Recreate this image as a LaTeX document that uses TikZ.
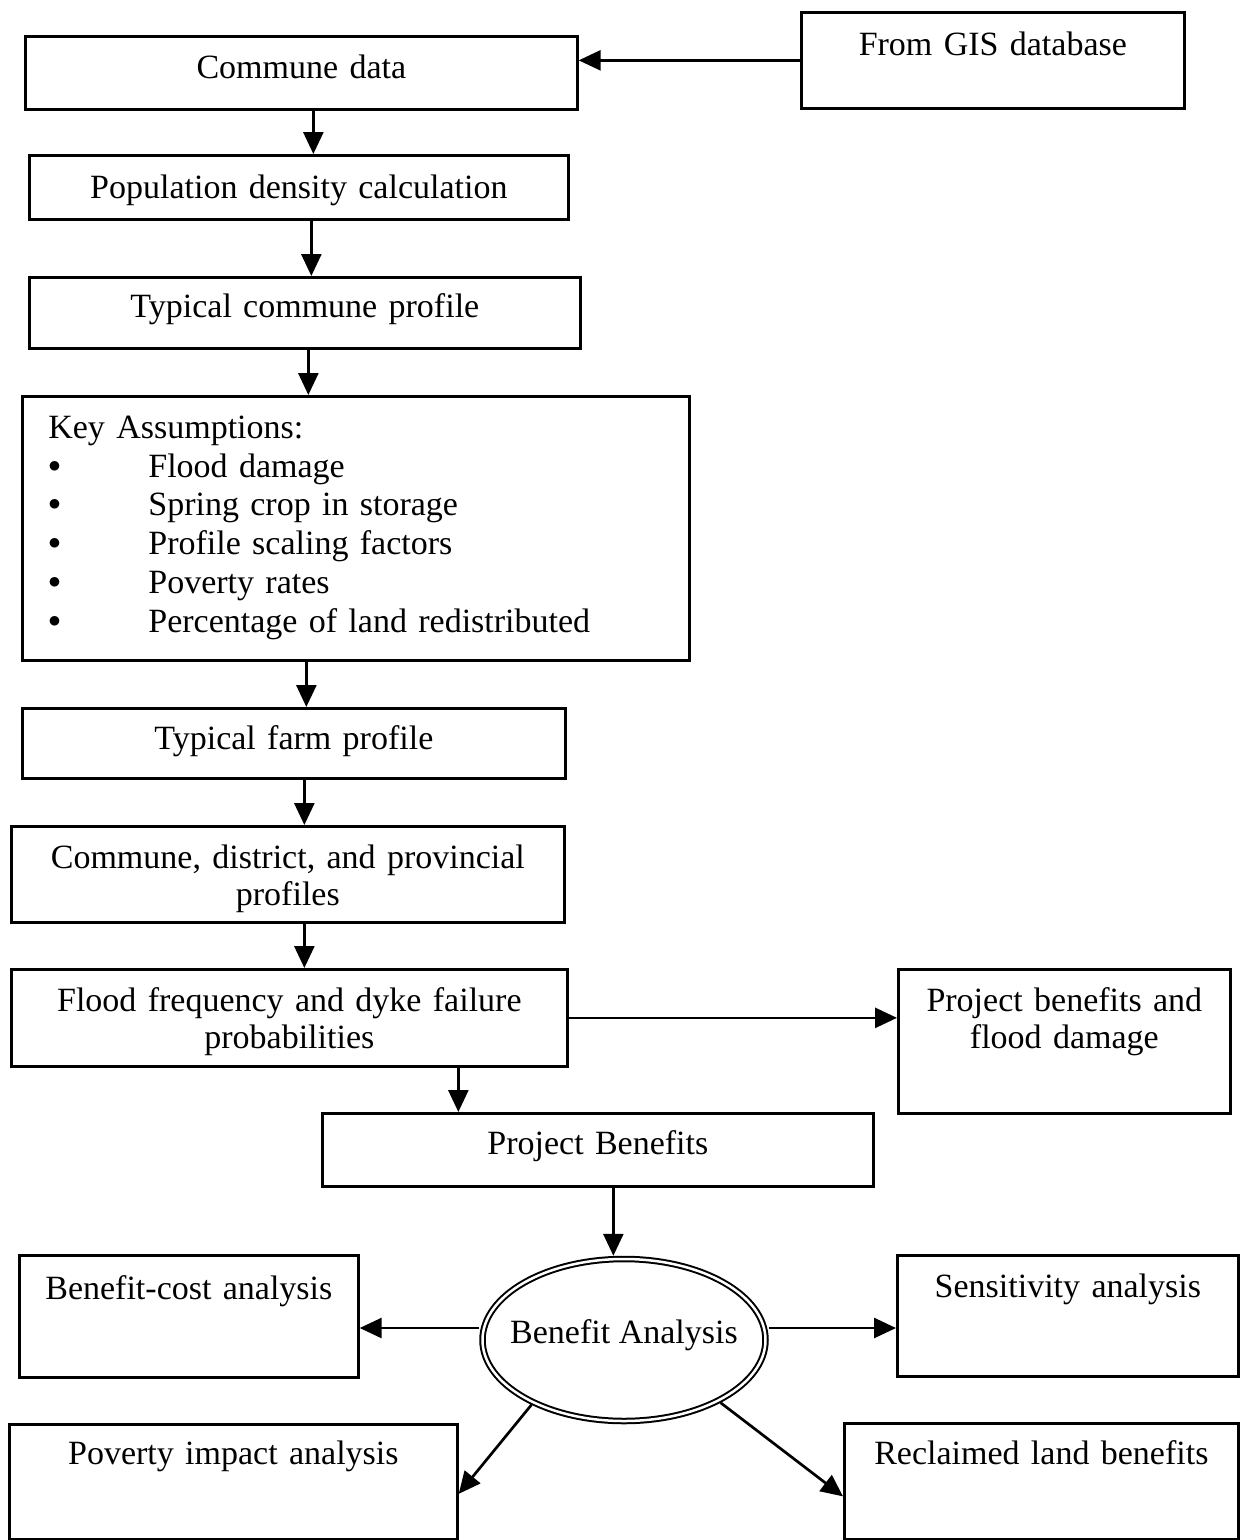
\documentclass[tikz,border=0pt]{standalone}
\usepackage{fontspec}
\setmainfont{Liberation Serif}
\usetikzlibrary{arrows.meta,shapes.geometric}
\tikzset{
    box/.style={draw,rectangle,line width=2.7pt,anchor=north west,inner sep=0pt,align=center,font=\fontsize{34}{37}\selectfont},
    benefit/.style={draw,ellipse,double,line width=2pt,double distance=2.5pt,inner sep=0pt,outer sep=3.25pt,
                    minimum width=283pt,minimum height=162pt,font=\fontsize{34}{37}\selectfont},
    arr/.style={line width=2.7pt,-{Triangle[length=22pt,width=20pt]}}
}
\newcommand{\keybullet}{\makebox[100pt][l]{\raisebox{5pt}{$\bullet$}}}

\begin{document}
\begin{tikzpicture}[x=1pt,y=-1pt]
                            \useasboundingbox (0,0) rectangle (1244,1540);
                            \node[box,text width=552pt,text height=42pt,text depth=31pt] (cdata) at (24,35) {Commune data};
                            \node[box,text width=383pt,text height=43pt,text depth=53pt] (gis) at (800,11) {From GIS database};
                            \node[box,text width=539pt,text height=43pt,text depth=21pt] (popd) at (28,154) {Population density calculation};
                            \node[box,text width=551pt,text height=40pt,text depth=31pt] (tcom) at (28,276) {Typical commune profile};
                            \node[box,align=left,inner xsep=26pt,text width=615pt,text height=42pt,text depth=222pt,
                                  font=\fontsize{34}{38.8}\selectfont] (keya) at (21,395) {Key Assumptions:\\
                                \keybullet Flood damage\\
                                \keybullet Spring crop in storage\\
                                \keybullet Profile scaling factors\\
                                \keybullet Poverty rates\\
                                \keybullet Percentage of land redistributed};
                            \node[box,text width=543pt,text height=41pt,text depth=29pt] (tfarm) at (21,707) {Typical farm profile};
                            \node[box,text width=553pt,text height=42pt,text depth=54pt] (cdprof) at (10,825) {Commune, district, and provincial\\profiles};
                            \node[box,text width=556pt,text height=42pt,text depth=55pt] (flood) at (10,968) {Flood frequency and dyke failure\\probabilities};
                            \node[box,text width=332pt,text height=42pt,text depth=102pt] (pbfd) at (897,968) {Project benefits and\\flood damage};
                            \node[box,text width=551pt,text height=41pt,text depth=32pt] (pben) at (321,1112) {Project Benefits};
                            \node[benefit,text height=20pt,text depth=14pt] (bana) at (624,1340) {\makebox[0pt]{Benefit Analysis}};
                            \node[box,text width=339pt,text height=44pt,text depth=78pt] (bca) at (18,1254) {Benefit-cost analysis};
                            \node[box,text width=341pt,text height=42pt,text depth=79pt] (sens) at (896,1254) {Sensitivity analysis};
                            \node[box,text width=448pt,text height=40pt,text depth=75pt] (pov) at (8,1423) {Poverty impact analysis};
                            \node[box,text width=394pt,text height=41pt,text depth=75pt] (recl) at (843,1422) {Reclaimed land benefits};

                            \draw[arr] (gis.west) -- (cdata.east |- gis.west);
                            \draw[arr] ([xshift=12pt]cdata.south) -- ([xshift=12pt]cdata.south |- popd.north);
                            \draw[arr] ([xshift=12.5pt]popd.south) -- ([xshift=12.5pt]popd.south |- tcom.north);
                            \draw[arr] ([xshift=3.5pt]tcom.south) -- ([xshift=3.5pt]tcom.south |- keya.north);
                            \draw[arr] ([xshift=-49.5pt]keya.south) -- ([xshift=-49.5pt]keya.south |- tfarm.north);
                            \draw[arr] ([xshift=10.5pt]tfarm.south) -- ([xshift=10.5pt]tfarm.south |- cdprof.north);
                            \draw[arr] ([xshift=16.5pt]cdprof.south) -- ([xshift=16.5pt]cdprof.south |- flood.north);
                            \draw[arr] (flood.east) -- (flood.east -| pbfd.west);
                            \draw[arr] ([xshift=169pt]flood.south) -- ([xshift=169pt]flood.south |- pben.north);
                            \draw[arr] ([xshift=15.5pt]pben.south) -- ([xshift=15.5pt]pben.south |- bana.north);
                            \draw[arr] ([yshift=12pt]bana.west) -- ([yshift=12pt]bana.west -| bca.east);
                            \draw[arr] ([yshift=12pt]bana.east) -- ([yshift=12pt]bana.east -| sens.west);
                            \draw[arr] (bana.215) -- ([yshift=-12pt]pov.east);
                            \draw[arr] (bana.327) -- ([yshift=-15pt]recl.west);
                        \end{tikzpicture}
\end{document}
